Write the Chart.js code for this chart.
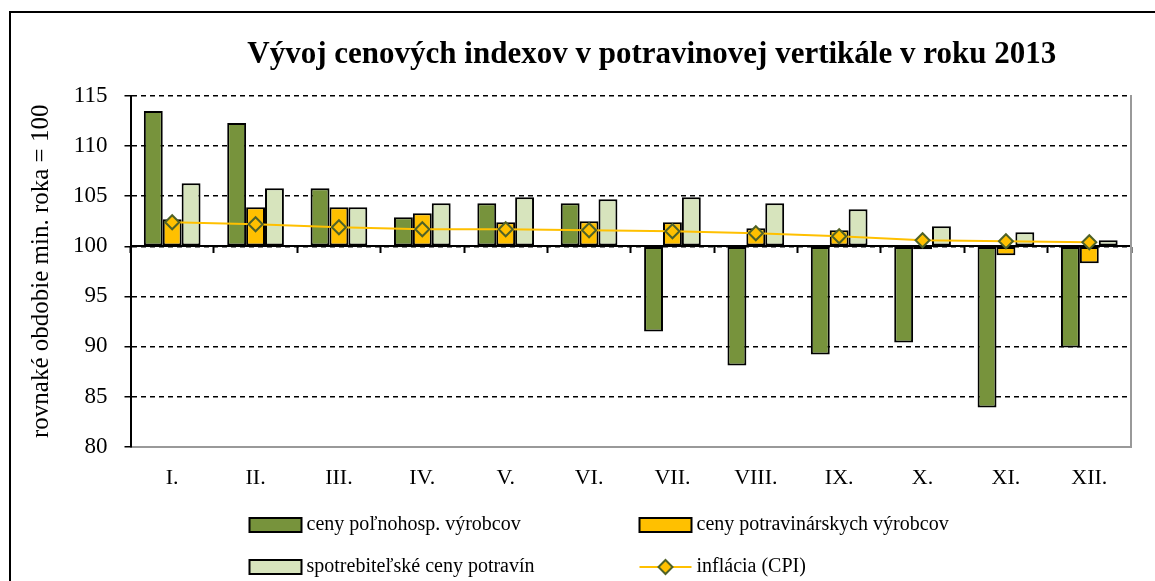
<!DOCTYPE html>
<html lang="sk">
  <head>
    <meta charset="utf-8" />
    <title>Vývoj cenových indexov v potravinovej vertikále v roku 2013</title>
    <script src="https://cdn.jsdelivr.net/npm/chart.js@4"></script>
    <style>
      body { margin: 0; background: #fff; }
      .wrapper { position: relative; width: 1155px; height: 581px; overflow: hidden; }
      .frame { position: absolute; left: 9px; top: 11px; width: 1200px; height: 700px; border: 2px solid #000; }
      canvas { position: absolute; left: 0; top: 0; }
    </style>
  </head>
  <body>
    <div class="wrapper">
      <div class="frame"></div>
      <canvas id="myChart" width="1155" height="581"></canvas>
    </div>
    <script>
      // chart data
      const months = ["I.", "II.", "III.", "IV.", "V.", "VI.", "VII.", "VIII.", "IX.", "X.", "XI.", "XII."];
      const farmPrices = [113.5, 112.3, 105.8, 102.9, 104.3, 104.3, 91.5, 88.1, 89.2, 90.4, 83.9, 89.9];
      const foodProducerPrices = [102.7, 103.9, 103.9, 103.3, 102.4, 102.5, 102.4, 101.8, 101.6, 99.7, 99.1, 98.3];
      const consumerFoodPrices = [106.3, 105.8, 103.9, 104.3, 104.9, 104.7, 104.9, 104.3, 103.7, 102.0, 101.4, 100.6];
      const cpi = [102.4, 102.2, 101.9, 101.7, 101.7, 101.6, 101.5, 101.3, 101.0, 100.6, 100.5, 100.4];
      const yTicks = [80, 85, 90, 95, 100, 105, 110, 115];

      const FONT = "'Liberation Serif', 'Times New Roman', serif";
      const titleText = "Vývoj cenových indexov v potravinovej vertikále v roku 2013";

      // title + 2x2 legend drawn on the canvas
      const extras = {
        id: "extras",
        afterDraw(chart) {
          const ctx = chart.ctx;
          const area = chart.chartArea;
          ctx.save();
          ctx.fillStyle = "#000";
          ctx.font = "bold 31px " + FONT;
          ctx.textAlign = "center";
          ctx.textBaseline = "middle";
          ctx.fillText(titleText, (area.left + area.right) / 2 + 21, 55);

          const ds = chart.data.datasets;
          const colX = [area.left + 119, area.left + 509];
          const rowY = [525, 567];
          ctx.font = "20px " + FONT;
          ctx.textAlign = "left";
          ds.forEach((d, i) => {
            const x = colX[i % 2];
            const y = rowY[Math.floor(i / 2)];
            if (d.type === "line") {
              ctx.strokeStyle = d.borderColor;
              ctx.lineWidth = 2;
              ctx.beginPath();
              ctx.moveTo(x, y);
              ctx.lineTo(x + 52, y);
              ctx.stroke();
              ctx.beginPath();
              ctx.moveTo(x + 26, y - 7);
              ctx.lineTo(x + 33, y);
              ctx.lineTo(x + 26, y + 7);
              ctx.lineTo(x + 19, y);
              ctx.closePath();
              ctx.fillStyle = d.pointBackgroundColor;
              ctx.fill();
              ctx.strokeStyle = d.pointBorderColor;
              ctx.stroke();
            } else {
              ctx.fillStyle = d.backgroundColor;
              ctx.fillRect(x, y - 7, 52, 14);
              ctx.strokeStyle = "#000";
              ctx.lineWidth = 2;
              ctx.strokeRect(x, y - 7, 52, 14);
            }
            ctx.fillStyle = "#000";
            ctx.fillText(d.label, x + 57, y);
          });
          ctx.restore();
        }
      };

      new Chart(document.getElementById("myChart"), {
        type: "bar",
        data: {
          labels: months,
          datasets: [
            {
              label: "ceny poľnohosp. výrobcov",
              data: farmPrices,
              backgroundColor: "#77933C",
              borderColor: "#000",
              borderWidth: 2,
              borderSkipped: false,
              base: 100,
              order: 1
            },
            {
              label: "ceny potravinárskych výrobcov",
              data: foodProducerPrices,
              backgroundColor: "#FFC000",
              borderColor: "#000",
              borderWidth: 2,
              borderSkipped: false,
              base: 100,
              order: 1
            },
            {
              label: "spotrebiteľské ceny potravín",
              data: consumerFoodPrices,
              backgroundColor: "#D7E4BD",
              borderColor: "#000",
              borderWidth: 2,
              borderSkipped: false,
              base: 100,
              order: 1
            },
            {
              type: "line",
              label: "inflácia (CPI)",
              data: cpi,
              borderColor: "#FFC000",
              borderWidth: 2,
              tension: 0,
              pointStyle: "rectRot",
              pointRadius: 7,
              pointBackgroundColor: "#FFC000",
              pointBorderColor: "#4F6228",
              pointBorderWidth: 2,
              order: 0
            }
          ]
        },
        options: {
          responsive: false,
          animation: false,
          categoryPercentage: 0.68,
          barPercentage: 1,
          layout: { padding: { top: 96, left: 12, right: 16, bottom: 80 } },
          plugins: {
            legend: { display: false },
            title: { display: false },
            tooltip: { enabled: false }
          },
          scales: {
            x: {
              offset: true,
              grid: { display: false },
              border: { display: true, color: "#999", width: 2 },
              ticks: { color: "#000", padding: 10, font: { family: FONT, size: 22 } }
            },
            x2: {
              type: "category",
              labels: months,
              position: { y: 100 },
              offset: true,
              grid: { offset: true, drawOnChartArea: false, drawTicks: true, tickLength: 6, tickWidth: 2, tickColor: "#000" },
              border: { display: true, color: "#000", width: 2 },
              ticks: { display: false }
            },
            y: {
              min: 80,
              max: 115,
              afterBuildTicks: (axis) => { axis.ticks = yTicks.map((v) => ({ value: v })); },
              grid: {
                color: (c) => (c.tick && c.tick.value === 80 ? "#999" : "#000"),
                lineWidth: 1.5,
                tickLength: 6,
                tickColor: "#000",
                tickWidth: 1.5
              },
              border: { display: true, color: "#000", width: 2, dash: (c) => (c.tick && c.tick.value === 80 ? [2, 2] : [5, 4]) },
              ticks: { color: "#000", padding: 17, font: { family: FONT, size: 23 } },
              title: {
                display: true,
                text: "rovnaké obdobie min. roka = 100",
                color: "#000",
                font: { family: FONT, size: 25 },
                padding: { top: 14, bottom: 0 }
              }
            },
            y2: {
              position: "right",
              grid: { display: false },
              ticks: { display: false },
              border: { display: true, color: "#999", width: 2 }
            }
          }
        },
        plugins: [extras]
      });
    </script>
  </body>
</html>
